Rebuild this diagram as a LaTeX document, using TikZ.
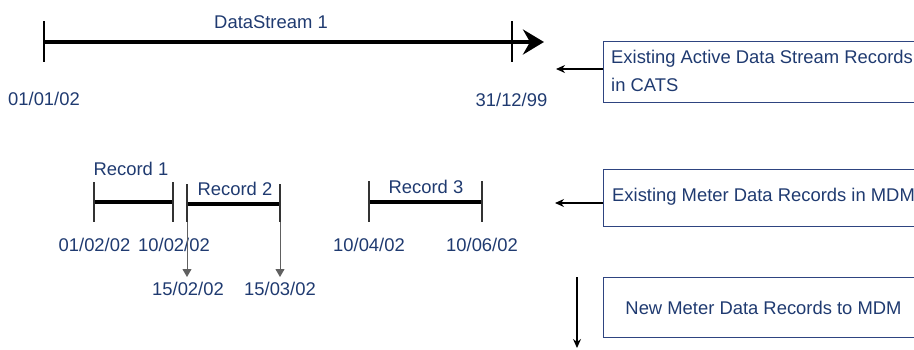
\documentclass[tikz,border=0pt]{standalone}
\usepackage{fontspec}
\setmainfont{Liberation Sans}
\usetikzlibrary{arrows.meta}
\definecolor{navy}{HTML}{1F3A70}
\definecolor{boxline}{HTML}{2E4480}
\definecolor{grayarrow}{HTML}{606060}
\definecolor{tickgray}{HTML}{333333}
\begin{document}
\begin{tikzpicture}[x=1pt,y=-1pt,
  every node/.style={font=\fontsize{18.4}{28}\selectfont, text=navy, inner sep=0pt},
  tickline/.style={line width=1.4pt, black},
  rtick/.style={line width=1.4pt, tickgray},
  spanline/.style={line width=4.5pt, black},
  infobox/.style={draw=boxline, line width=1pt, anchor=north west},
  boxtext/.style={anchor=west, align=left},
  ptr/.style={line width=1.3pt, black, -{Stealth[length=9pt,width=8pt]}},
  grayptr/.style={line width=1pt, grayarrow, -{Triangle[length=8pt,width=9pt]}}]
\useasboundingbox (0,0) rectangle (914,349);
\clip (0,0) rectangle (914,349);

% DataStream 1
\coordinate (ds0) at (44,42);
\coordinate (ds1) at (544,42);
\coordinate (t0a) at (44,21); \coordinate (t0b) at (44,62);
\coordinate (t1a) at (512,21); \coordinate (t1b) at (512,62);
\draw[spanline, -{Stealth[length=21pt,width=25pt,inset=7pt]}] (ds0) -- (ds1);
\draw[tickline] (t0a) -- (t0b);
\draw[tickline] (t1a) -- (t1b);
\node (dslabel) at (271,22) {DataStream 1};
\node (dsstart) at (44,99) {01/01/02};
\node (dsend) at (511.5,100) {31/12/99};

% Boxes
\node[infobox, minimum width=340pt, minimum height=61pt] (b1) at (603,41) {};
\node[boxtext] (b1t) at (611,71) {Existing Active Data Stream Records\\in CATS};
\node[infobox, minimum width=340pt, minimum height=57pt] (b2) at (603,169) {};
\node[boxtext] (b2t) at (612,197) {Existing Meter Data Records in MDM};
\node[infobox, minimum width=320pt, minimum height=60pt, align=center] (b3) at (603,277)
  {New Meter Data Records to MDM};

\coordinate (a1) at (556,69);
\coordinate (a2) at (555,203);
\coordinate (a3s) at (577,277);
\coordinate (a3e) at (577,348);
\draw[ptr] (b1.west |- a1) -- (a1);
\draw[ptr] (b2.west |- a2) -- (a2);
\draw[ptr] (a3s) -- (a3e);

% Record 1
\coordinate (r1a) at (94,202); \coordinate (r1b) at (173,202);
\draw[spanline] (r1a) -- (r1b);
\draw[rtick] (94,182) -- (94,222);
\draw[rtick] (173,182) -- (173,222);
\node (r1label) at (131,169) {Record 1};
\node (r1s) at (94.5,245) {01/02/02};
\node (r1e) at (174,245) {10/02/02};

% Record 2
\coordinate (r2a) at (187,204); \coordinate (r2b) at (280,204);
\draw[spanline] (r2a) -- (r2b);
\coordinate (r2at) at (187,184); \coordinate (r2ab) at (187,222);
\coordinate (r2bt) at (280,184); \coordinate (r2bb) at (280,222);
\draw[rtick] (r2at) -- (r2ab);
\draw[rtick] (r2bt) -- (r2bb);
\coordinate (g1) at (187,277); \coordinate (g2) at (280,277);
\draw[grayptr] (r2ab) -- (g1);
\draw[grayptr] (r2bb) -- (g2);
\node (r2label) at (235,189) {Record 2};
\node (n1) at (188,289) {15/02/02};
\node (n2) at (280,289) {15/03/02};

% Record 3
\coordinate (r3a) at (369,202); \coordinate (r3b) at (482,202);
\draw[spanline] (r3a) -- (r3b);
\draw[rtick] (369,181) -- (369,222);
\draw[rtick] (482,181) -- (482,222);
\node (r3label) at (426,187) {Record 3};
\node (r3s) at (369,245) {10/04/02};
\node (r3e) at (482,245) {10/06/02};
\end{tikzpicture}
\end{document}
